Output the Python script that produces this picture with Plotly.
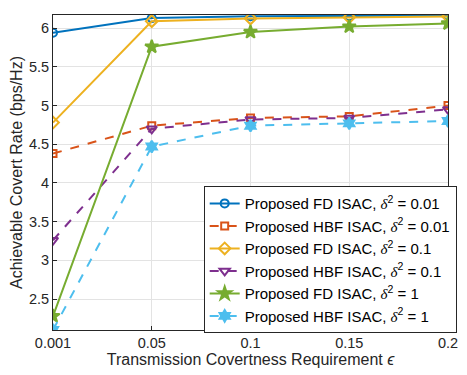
import plotly.graph_objects as go

eps_labels = ["0.001", "0.05", "0.1", "0.15", "0.2"]
fd_001 = [5.94, 6.13, 6.155, 6.155, 6.16]
hbf_001 = [4.38, 4.74, 4.84, 4.86, 5.00]
fd_01 = [4.78, 6.09, 6.125, 6.14, 6.15]
hbf_01 = [3.26, 4.70, 4.82, 4.84, 4.95]
fd_1 = [2.28, 5.76, 5.95, 6.02, 6.06]
hbf_1 = [2.10, 4.47, 4.74, 4.77, 4.80]

D = "<span style=\"font-family:'Liberation Serif'\"><i>δ</i></span><sup>2</sup>"
series = [
    ("Proposed FD ISAC, " + D + " = 0.01", fd_001, "#0072BD", "solid", "circle-open", 8),
    ("Proposed HBF ISAC, " + D + " = 0.01", hbf_001, "#D95319", "dash", "square-open", 7),
    ("Proposed FD ISAC, " + D + " = 0.1", fd_01, "#EDB120", "solid", "diamond-open", 9),
    ("Proposed HBF ISAC, " + D + " = 0.1", hbf_01, "#7E2F8E", "dash", "triangle-down-open", 9),
    ("Proposed FD ISAC, " + D + " = 1", fd_1, "#77AC30", "solid", "star", 10),
    ("Proposed HBF ISAC, " + D + " = 1", hbf_1, "#4DBEEE", "dash", "hexagram", 9),
]

x_idx = list(range(len(eps_labels)))
fig = go.Figure()
for name, ys, col, dash, sym, sz in series:
    fig.add_trace(go.Scatter(
        x=x_idx, y=ys, name=name, mode="lines+markers",
        line=dict(color=col, width=2, dash=dash),
        marker=dict(symbol=sym, size=sz, color=col, line=dict(color=col, width=2)),
    ))

fig.update_layout(
    width=467, height=375,
    margin=dict(l=53, r=10, t=15, b=45),
    paper_bgcolor="white", plot_bgcolor="white",
    font=dict(family="Liberation Sans, Arial, sans-serif", size=14.5, color="#262626"),
    legend=dict(
        x=1.022, y=-0.01, xanchor="right", yanchor="bottom",
        bgcolor="white", bordercolor="#262626", borderwidth=1,
        font=dict(size=15, color="black"),
        tracegroupgap=0, itemwidth=30,
    ),
    showlegend=True,
)
fig.update_xaxes(
    range=[0, 4], tickvals=x_idx, ticktext=eps_labels,
    ticklabeloverflow="allow",
    showgrid=True, gridcolor="#e3e3e3", gridwidth=1,
    showline=True, linecolor="#262626", linewidth=1, mirror=True,
    ticks="inside", ticklen=4, tickcolor="#262626",
    zeroline=False,
    title=dict(text="Transmission Covertness Requirement <i>ϵ</i>", standoff=3, font=dict(size=16)),
)
fig.update_yaxes(
    range=[2.1, 6.17], tickvals=[2.5, 3, 3.5, 4, 4.5, 5, 5.5, 6],
    ticktext=["2.5", "3", "3.5", "4", "4.5", "5", "5.5", "6"],
    showgrid=True, gridcolor="#e3e3e3", gridwidth=1,
    showline=True, linecolor="#262626", linewidth=1, mirror=True,
    ticks="inside", ticklen=4, tickcolor="#262626",
    zeroline=False,
    title=dict(text="Achievable Covert Rate (bps/Hz)", standoff=2, font=dict(size=16)),
)

fig.write_html("out.html")
